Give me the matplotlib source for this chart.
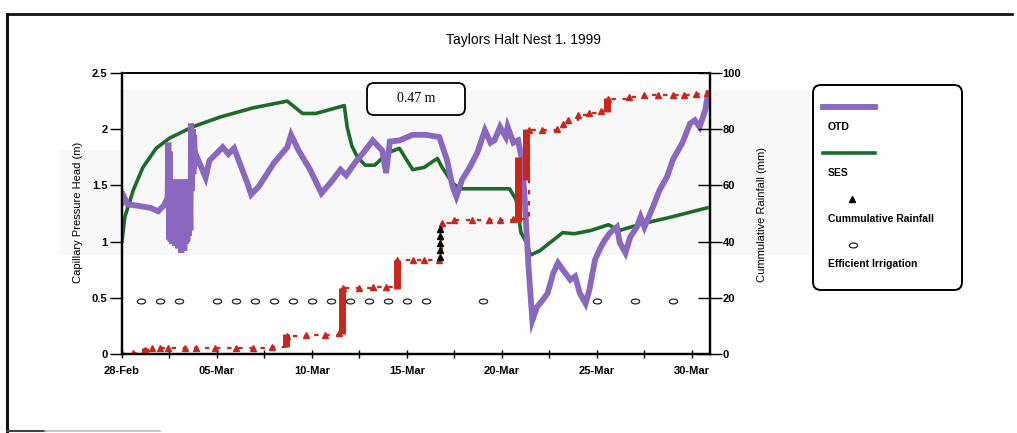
import numpy as np
import matplotlib
matplotlib.use("Agg")
import matplotlib.pyplot as plt
from matplotlib.patches import FancyBboxPatch, Rectangle
from matplotlib.markers import MarkerStyle
from matplotlib.transforms import Affine2D

plt.rcParams['font.family'] = ['Liberation Sans', 'DejaVu Sans']

# days after 28-Feb 1999
tick_days = [0, 5, 10, 15, 20, 25, 30]
tick_labels = ['28-Feb', '05-Mar', '10-Mar', '15-Mar', '20-Mar', '25-Mar', '30-Mar']

otd_day = [0.0, 0.1, 0.3, 0.8, 1.5, 1.9, 2.2, 2.4,
           2.44, 2.48, 2.52, 2.56, 2.60, 2.64, 2.68, 2.72, 2.76, 2.80, 2.84, 2.88,
           2.92, 2.96, 3.00, 3.04, 3.08, 3.12, 3.16, 3.20, 3.24, 3.28, 3.32, 3.36,
           3.40, 3.44, 3.48, 3.52, 3.56, 3.60, 3.64, 3.68, 3.72, 3.76, 3.80, 3.85,
           3.95, 4.4, 4.6, 5.3,
           5.6, 5.9, 6.6, 6.8, 7.2, 8.0, 8.7, 8.9, 9.3, 9.9, 10.5, 11.1, 11.5, 11.8,
           12.3, 12.7, 13.2, 13.7, 13.9, 14.1, 14.6, 15.3, 16.0, 16.7, 17.1, 17.4,
           17.6, 17.9, 18.3, 18.7, 19.1, 19.4, 19.6, 19.9, 20.2, 20.3, 20.6, 20.85,
           21.05, 21.2, 21.4, 21.6, 21.85, 22.1, 22.4, 22.7, 22.95, 23.2, 23.6, 23.85,
           24.1, 24.4, 24.6, 24.9, 25.2, 25.4, 25.7, 26.05, 26.2, 26.5, 26.75, 27.1,
           27.3, 27.5, 27.95, 28.3, 28.7, 29.0, 29.5, 29.9, 30.15, 30.4, 30.7, 30.85]
otd_val = [1.35, 1.40, 1.33, 1.32, 1.30, 1.27, 1.32, 1.39,
           1.88, 1.02, 1.80, 1.00, 1.55, 0.98, 1.52, 1.02, 1.55, 0.96, 1.50, 1.00,
           1.55, 0.94, 1.52, 0.98, 1.55, 0.90, 1.50, 0.95, 1.55, 0.92, 1.52, 0.98,
           1.55, 1.00, 1.50, 1.05, 1.55, 1.10, 2.05, 1.45, 2.00, 1.60, 1.95, 1.70,
           1.75, 1.57, 1.72, 1.84,
           1.78, 1.83, 1.52, 1.42, 1.49, 1.70, 1.84, 1.95, 1.81, 1.64, 1.43, 1.55, 1.64, 1.59,
           1.71, 1.79, 1.90, 1.81, 1.61, 1.89, 1.90, 1.95, 1.95, 1.93, 1.73, 1.49,
           1.40, 1.55, 1.66, 1.79, 1.99, 1.88, 1.90, 2.02, 1.93, 2.02, 1.88, 1.90,
           1.73, 1.37, 0.77, 0.30, 0.42, 0.47, 0.54, 0.72, 0.81, 0.75, 0.66, 0.69,
           0.54, 0.45, 0.57, 0.84, 0.95, 1.01, 1.08, 1.13, 0.99, 0.90, 1.04, 1.13,
           1.22, 1.13, 1.31, 1.46, 1.58, 1.73, 1.88, 2.05, 2.08, 2.02, 2.17, 2.32]

ses_day = [0, 0.15, 0.6, 1.1, 1.8, 2.5, 3.7, 5.2, 6.9, 8.7, 9.5, 10.2, 11.7, 11.85, 12.1,
           12.4, 12.8, 13.3, 14.0, 14.6, 15.3, 15.9, 16.6, 16.85, 17.4, 17.8, 20.4, 20.75,
           21.0, 21.3, 21.5, 22.0, 23.2, 23.8, 24.7, 25.6, 26.2, 27.4, 28.7, 30.8]
ses_val = [1.0, 1.22, 1.46, 1.66, 1.83, 1.92, 2.02, 2.11, 2.19, 2.25, 2.14, 2.14, 2.21, 2.02, 1.85,
           1.75, 1.68, 1.68, 1.79, 1.83, 1.64, 1.66, 1.74, 1.66, 1.52, 1.47, 1.47, 1.37,
           1.08, 0.99, 0.88, 0.92, 1.08, 1.07, 1.10, 1.15, 1.10, 1.16, 1.21, 1.30]

rain_day = [0, 0.6, 1.2, 1.6, 2.0, 2.4, 3.3, 3.9, 4.9, 6.0, 6.9, 7.9, 8.7, 9.7, 10.7, 11.4,
            11.65, 12.5, 13.2, 13.9, 14.5, 15.3, 15.9, 16.7, 16.85, 17.5, 18.4, 19.3, 19.9,
            20.6, 21.4, 22.1, 22.9, 23.2, 23.5, 24.0, 24.6, 25.2, 25.6, 26.7, 27.5, 28.2,
            29.0, 29.6, 30.2, 30.8]
rain_mm = [0, 0.5, 1.5, 2, 2, 2, 2, 2, 2, 2, 2, 2.5, 6.5, 6.8, 6.8, 7.3,
           23.5, 23.5, 24, 24, 33.5, 33.5, 33.5, 33.5, 46.5, 47.7, 47.7, 47.7, 47.7,
           48, 79.7, 79.7, 80, 82, 83.3, 85, 85.8, 86.5, 90.8, 91.5, 92, 92.2,
           92.2, 92.2, 92.5, 92.9]

# heavy rain bursts (dense markers in the original)
burst_day = [1.2, 8.65, 11.6, 14.5, 20.85, 21.25, 25.55]
burst_lo = [0, 2.5, 7, 23, 47, 62, 86]
burst_hi = [2, 7, 23.5, 33.5, 70, 80, 91]

black_day = [16.75, 16.75, 16.75, 16.75, 16.75]
black_mm = [34.5, 37, 39.5, 42, 44.5]

irr_day = [1, 2, 3, 5, 6, 7, 8, 9, 10, 11, 12, 13, 14, 15, 16, 19, 25, 27, 29]
irr_val = [0.47] * len(irr_day)

purple = '#8a68bf'
green = '#1d6a2a'
red = '#c9261c'

fig = plt.figure(figsize=(10.17, 4.33), dpi=100)

# faint scan shading behind the plot
for x0, y0, w, h in [(120, 90, 690, 165), (60, 150, 60, 105)]:
    fig.add_artist(Rectangle((x0 / 1017, 1 - (y0 + h) / 433), w / 1017, h / 433,
                             transform=fig.transFigure, color='#f8f8f8', lw=0, zorder=-5))

ax = fig.add_axes([122 / 1017, 1 - 354 / 433, 588 / 1017, 281 / 433])
ax.set_facecolor('none')
ax2 = ax.twinx()

ell = MarkerStyle('o', transform=Affine2D().scale(1.7, 1.0))
ax.plot(irr_day, irr_val, ls='none', marker=ell, ms=3.5, mfc='white', mec='#222222',
        mew=0.9, zorder=2)
ax.plot(ses_day, ses_val, color=green, lw=2.6, zorder=3, solid_joinstyle='round')
ax.plot(otd_day, otd_val, color=purple, lw=4.2, zorder=4, solid_joinstyle='miter')

ax2.plot(rain_day, rain_mm, color=red, lw=1.6, ls=(0, (2, 3)), drawstyle='steps-post',
         marker='^', ms=4.5, mec=red, mfc=red)
ax2.vlines(burst_day, burst_lo, burst_hi, color=red, lw=5)
ax2.plot(black_day, black_mm, ls='none', marker='^', ms=5, color='black')

ax.set_xlim(0, 30.95)
ax.set_ylim(0, 2.5)
ax2.set_ylim(0, 100)

ax.set_xticks(tick_days)
ax.set_xticklabels(tick_labels)
ax.set_xticks([2.5, 7.5, 12.5, 17.5, 22.5, 27.5], minor=True)
ax.set_yticks([0, 0.5, 1, 1.5, 2, 2.5])
ax.set_yticklabels(['0', '0.5', '1', '1.5', '2', '2.5'])
ax2.set_yticks([0, 20, 40, 60, 80, 100])

for lab in ax.get_xticklabels() + ax.get_yticklabels() + ax2.get_yticklabels():
    lab.set_fontsize(8)
    lab.set_fontweight('bold')

ax.tick_params(axis='x', which='both', direction='inout', length=6, width=1, pad=6)
ax.tick_params(axis='y', direction='out', length=8.5, width=1, pad=2)
ax2.tick_params(axis='y', direction='inout', length=17, width=1, pad=0.5)

for a in (ax, ax2):
    for s in ['left', 'right', 'bottom']:
        a.spines[s].set_linewidth(1.6)
    a.spines['top'].set_linewidth(1.2)

ax.set_ylabel('Capillary Pressure Head (m)', fontsize=8)
ax.yaxis.set_label_coords(-0.066, 0.505)
ax2.set_ylabel('Cummulative Rainfall (mm)', fontsize=8)
ax2.yaxis.set_label_coords(1.08, 0.495)

fig.text(523 / 1017, 1 - 40 / 433, 'Taylors Halt Nest 1. 1999', ha='center', va='center',
         fontsize=10)

# overlay in pixel units for frame, note box and legend
ov = fig.add_axes([0, 0, 1, 1])
ov.set_xlim(0, 1017)
ov.set_ylim(433, 0)
ov.axis('off')

ov.plot([7, 1012], [14, 14], color='#111111', lw=2)
ov.plot([7, 7], [14, 433], color='#111111', lw=2.2)
ov.plot([7, 45], [431, 431], color='#444444', lw=1.5)
ov.plot([45, 160], [431, 431], color='#bbbbbb', lw=1.2)

ov.add_patch(FancyBboxPatch((367, 83), 98, 32, boxstyle='round,pad=0,rounding_size=7',
                            fc='white', ec='black', lw=1.3))
ov.text(416, 99, '0.47 m', ha='center', va='center', fontsize=10,
        family=['Liberation Serif', 'DejaVu Serif'])

ov.add_patch(FancyBboxPatch((813, 85), 149, 205, boxstyle='round,pad=0,rounding_size=8',
                            fc='none', ec='black', lw=1.4))
ov.plot([823, 875], [107, 107], color=purple, lw=4.2)
ov.text(828, 127, 'OTD', va='center', fontsize=7.5, fontweight='bold')
ov.plot([823, 875], [153, 153], color=green, lw=2.6)
ov.text(828, 173, 'SES', va='center', fontsize=7.5, fontweight='bold')
ov.plot([852], [199], ls='none', marker='^', ms=4.5, color='black')
ov.text(828, 219, 'Cummulative Rainfall', va='center', fontsize=7.5, fontweight='bold')
ov.plot([853], [245], ls='none', marker=ell, ms=3.5, mfc='white', mec='#222222', mew=0.9)
ov.text(828, 264, 'Efficient Irrigation', va='center', fontsize=7.5, fontweight='bold')

plt.savefig('out.png', dpi=100)
